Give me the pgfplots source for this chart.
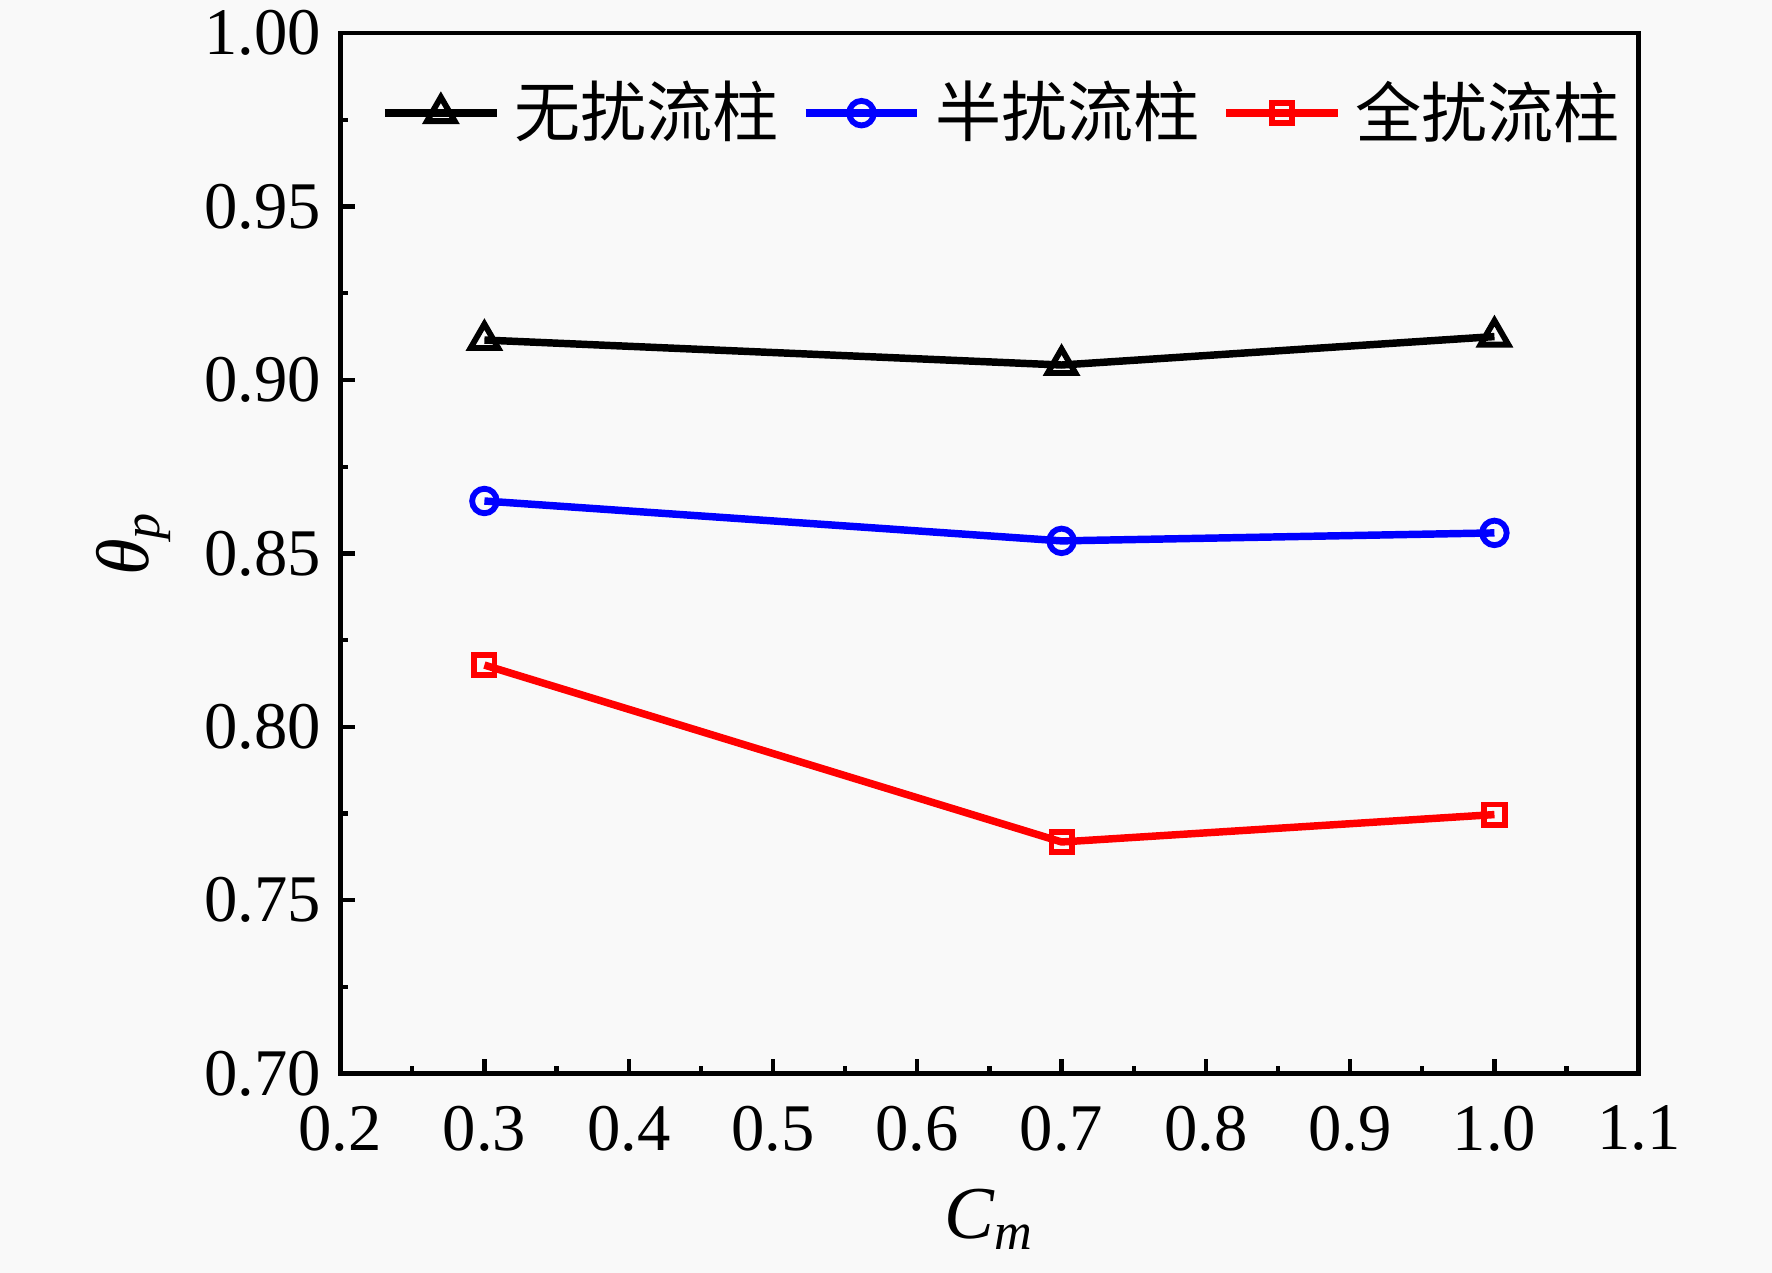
\documentclass[border=0pt]{standalone}
\usepackage{pgfplots}
\pgfplotsset{compat=1.18}
\usepackage{fontspec}
\setmainfont{Liberation Serif}
\newfontfamily\cjk{Noto Sans CJK SC}
\pgfdeclarelayer{background}
\pgfsetlayers{background,main}
\definecolor{bgc}{RGB}{249,249,249}
\definecolor{myblue}{RGB}{0,0,255}
\definecolor{myred}{RGB}{255,0,0}
\begin{document}
\begin{tikzpicture}
\begin{axis}[
  scale only axis, width=243.6pt, height=195.2pt,
  xmin=0.2, xmax=1.1, ymin=0.70, ymax=1.00,
  xtick={0.2,0.3,0.4,0.5,0.6,0.7,0.8,0.9,1.0,1.1},
  ytick={0.70,0.75,0.80,0.85,0.90,0.95,1.00},
  minor x tick num=1, minor y tick num=1,
  tick align=inside, tick pos=left,
  major tick length=2.8pt, minor tick length=1.5pt,
  axis line style={line width=0.9pt},
  every tick/.style={black, line width=0.8pt},
  /pgf/number format/assume math mode=true,
  ticklabel style={font=\fontsize{12.5}{14}\selectfont},
  xticklabel style={/tikz/yshift=-2.5pt, /pgf/number format/fixed, /pgf/number format/fixed zerofill, /pgf/number format/precision=1},
  yticklabel style={/pgf/number format/fixed, /pgf/number format/fixed zerofill, /pgf/number format/precision=2},
  xlabel={\textit{C}\textsubscript{\textit{m}}},
  ylabel={\textit{θ}\textsubscript{\textit{p}}},
  label style={font=\fontsize{14}{16}\selectfont},
  xlabel style={at={(axis description cs:0.5,-0.140)}, anchor=center},
  ylabel style={at={(axis description cs:-0.159,0.51)}, anchor=center},
  legend columns=3,
  legend cell align=left,
  legend style={draw=none, fill=none, at={(axis description cs:0,1)}, anchor=north west,
    xshift=4.5pt, yshift=-6.8pt, font=\cjk\fontsize{12.4}{14}\selectfont,
    nodes={inner sep=0pt},
    /tikz/every even column/.append style={column sep=4.3pt},
    /tikz/every odd column/.append style={column sep=2.6pt}},
  legend image code/.code={\draw[#1,mark repeat=2,mark phase=2] plot coordinates {(0pt,0pt) (10.5pt,0pt) (21pt,0pt)};},
]
\addplot[black, line width=1.4pt, mark=triangle, mark size=3pt, mark options={solid, line width=1.1pt, fill=bgc}]
  coordinates {(0.3,0.9115) (0.7,0.9043) (1.0,0.9125)};
\addlegendentry{无扰流柱}
\addplot[myblue, line width=1.4pt, mark=o, mark size=2.3pt, mark options={solid, line width=1.1pt, fill=bgc}]
  coordinates {(0.3,0.8651) (0.7,0.8536) (1.0,0.8559)};
\addlegendentry{半扰流柱}
\addplot[myred, line width=1.4pt, mark=square, mark size=1.9pt, mark options={solid, line width=1.1pt, fill=bgc}]
  coordinates {(0.3,0.8178) (0.7,0.7668) (1.0,0.7747)};
\addlegendentry{全扰流柱}
\end{axis}
\pgfresetboundingbox
\path ([shift={(-63.8pt,-37.3pt)}]current axis.south west) rectangle ([shift={(25pt,6.2pt)}]current axis.north east);
\begin{pgfonlayer}{background}
\fill[bgc] ([shift={(-63.8pt,-37.3pt)}]current axis.south west) rectangle ([shift={(25pt,6.2pt)}]current axis.north east);
\end{pgfonlayer}
\end{tikzpicture}
\end{document}
